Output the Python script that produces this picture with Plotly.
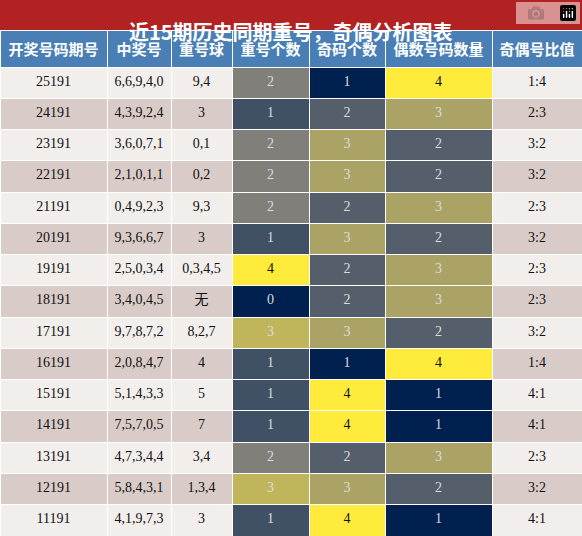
import plotly.graph_objects as go

headers = ["开奖号码期号", "中奖号", "重号球", "重号个数", "奇码个数", "偶数号码数量", "奇偶号比值"]
periods = ["25191","24191","23191","22191","21191","20191","19191","18191","17191","16191","15191","14191","13191","12191","11191"]
numbers = ["6,6,9,4,0","4,3,9,2,4","3,6,0,7,1","2,1,0,1,1","0,4,9,2,3","9,3,6,6,7","2,5,0,3,4","3,4,0,4,5","9,7,8,7,2","2,0,8,4,7","5,1,4,3,3","7,5,7,0,5","4,7,3,4,4","5,8,4,3,1","4,1,9,7,3"]
repeat_balls = ["9,4","3","0,1","0,2","9,3","3","0,3,4,5","无","8,2,7","4","5","7","3,4","1,3,4","3"]
repeat_count = [2,1,2,2,2,1,4,0,3,1,1,1,2,3,1]
odd_count = [1,2,3,3,2,3,2,2,3,1,4,4,2,3,4]
even_count = [4,3,2,2,3,2,3,3,2,4,1,1,3,2,1]
ratio = ["1:4","2:3","3:2","3:2","2:3","3:2","2:3","2:3","3:2","1:4","4:1","4:1","2:3","3:2","4:1"]

def lerp(a, b, t):
    return tuple(round(a[i] + (b[i] - a[i]) * t) for i in range(3))

NAVY, GRAY, YELLOW = (0, 32, 80), (128, 127, 122), (255, 235, 59)

def scale(vals):
    lo, hi = min(vals), max(vals)
    out = []
    for v in vals:
        t = (v - lo) / (hi - lo)
        c = lerp(NAVY, GRAY, t * 2) if t <= 0.5 else lerp(GRAY, YELLOW, (t - 0.5) * 2)
        out.append("rgb(%d,%d,%d)" % c)
    return out

def fonts(vals):
    m = max(vals)
    return ["#111" if v == m else "#dcdcdc" for v in vals]

row_bg = ["#f2eeec" if i % 2 == 0 else "#d9ccc8" for i in range(len(periods))]
fills = [row_bg, row_bg, row_bg, scale(repeat_count), scale(odd_count), scale(even_count), row_bg]
dark = ["#111"] * len(periods)
fcolors = [dark, dark, dark, fonts(repeat_count), fonts(odd_count), fonts(even_count), dark]

W, H = 582, 536
title_h = 30
fig = go.Figure(go.Table(
    columnwidth=[107, 64, 61, 77, 76, 107, 90],
    header=dict(values=["<b>%s</b>" % h for h in headers], fill_color="#4a7fb5", line_color="white", line_width=1,
                font=dict(family="Noto Sans CJK SC", size=15, color="white"), height=37, align="center"),
    cells=dict(values=[periods, numbers, repeat_balls, repeat_count, odd_count, even_count, ratio],
               fill_color=fills, line_color="white", line_width=1,
               font=dict(family="Liberation Serif, Noto Sans CJK SC", size=14, color=fcolors),
               height=31.27, align="center"),
    domain=dict(x=[0, 1], y=[0, 1 - title_h / H]),
))
fig.add_shape(type="rect", xref="paper", yref="paper", x0=0, x1=1, y0=1 - title_h / H, y1=1,
              fillcolor="#b22222", line_width=0, layer="below")
fig.add_annotation(text="<b>近15期历史同期重号，奇偶分析图表</b>", xref="paper", yref="paper",
                   x=0.5, y=1 - title_h / H / 2, showarrow=False,
                   font=dict(family="Noto Sans CJK SC", size=20, color="white"))
fig.update_layout(width=W, height=H, margin=dict(l=0, r=0, t=0, b=0), paper_bgcolor="white")
fig.write_html("out.html", post_script="document.body.style.margin='0';document.body.style.overflow='hidden';")
